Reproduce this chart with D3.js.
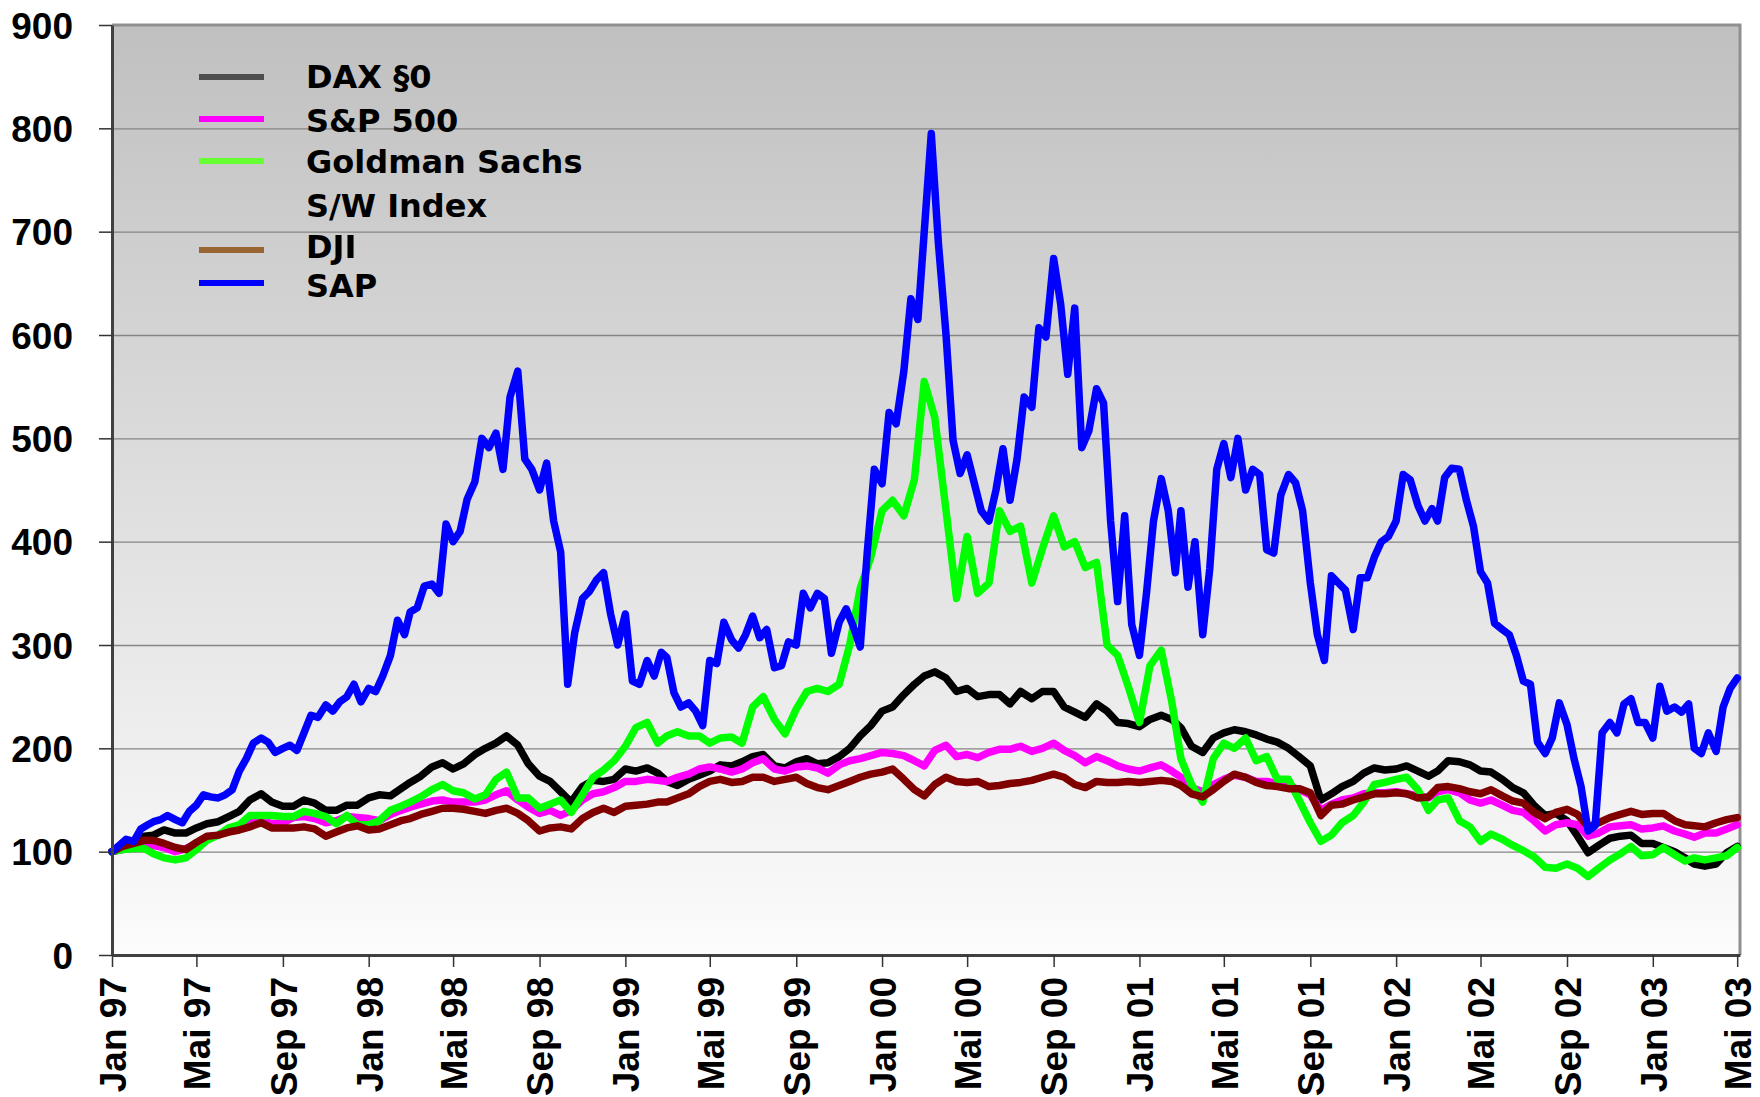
<!DOCTYPE html>
<html>
<head>
<meta charset="utf-8">
<script src="https://cdn.jsdelivr.net/npm/d3@7"></script>
<style>
    body { margin: 0; background: #ffffff; }
    svg { display: block; }
    .grid line { stroke: #858585; stroke-width: 1.3; }
    .grid path { display: none; }
    .axis text { font-family: "Liberation Sans", Arial, sans-serif; font-weight: bold; fill: #000; }
    .axis line { stroke: #333; stroke-width: 1.5; }
    .axis path { stroke: #404040; stroke-width: 3; }
    .legend text { font-family: "DejaVu Sans", Verdana, sans-serif; font-weight: bold; font-size: 32px; fill: #000; }
</style>
</head>
<body>
<div id="chart"></div>
<script>
// semi-monthly values (1st and 16th of each month), Jan 97 .. Mai 03
const daxValues = [
    100, 103, 111, 115, 116, 121, 118, 118, 123, 127, 129, 134, 139, 150, 156, 148, 144, 144, 150, 147, 140, 140, 145, 145,
    152, 155, 154, 161, 167, 173, 182, 186, 180, 185, 194, 200, 205, 212, 203, 185, 173, 168, 158, 148, 163, 169, 168, 170,
    180, 178, 181, 176, 168, 164, 170, 174, 178, 184, 183, 187, 192, 194, 183, 181, 187, 190, 185, 186, 192, 200, 212, 222,
    236, 240, 252, 262, 270, 274, 268, 255, 258, 250, 252, 252, 243, 255, 248, 255, 255, 240, 235, 230, 243, 236, 225, 224,
    221, 228, 232, 228, 220, 202, 196, 210, 215, 218, 216, 213, 209, 206, 200, 192, 183, 150, 156, 163, 168, 176, 181, 179,
    180, 183, 178, 173, 178, 188, 187, 184, 178, 177, 170, 162, 157, 145, 135, 137, 130, 115, 99, 106, 113, 115, 116, 108,
    108, 104, 100, 94, 88, 86, 88, 99, 105
];
const spValues = [
    100, 102, 105, 106, 106, 104, 100, 103, 108, 113, 116, 121, 125, 130, 131, 127, 128, 133, 134, 132, 128, 130, 134, 133,
    132, 130, 136, 140, 143, 146, 149, 150, 148, 148, 148, 150, 155, 159, 150, 143, 137, 140, 135, 140, 150, 156, 158, 162,
    168, 168, 170, 169, 168, 172, 175, 180, 182, 180, 177, 180, 186, 190, 180, 178, 182, 183, 181, 176, 184, 188, 190, 193,
    196, 195, 193, 188, 183, 198, 203, 192, 194, 191, 196, 199, 199, 202, 197, 200, 205, 198, 193, 186, 192, 188, 183, 180,
    178, 181, 184, 178, 172, 162, 158, 165, 170, 174, 172, 168, 168, 166, 164, 160, 155, 140, 146, 150, 152, 156, 157, 157,
    158, 156, 154, 152, 158, 160, 157, 150, 147, 150, 145, 140, 138, 130, 120, 126, 128, 126, 115, 118, 124, 125, 126, 122,
    123, 125, 120, 117, 114, 118, 118, 122, 126
];
const gsValues = [
    100, 102, 103, 103, 98, 94, 92, 94, 102, 111, 116, 123, 126, 135, 135, 135, 134, 134, 139, 137, 134, 127, 135, 126,
    126, 130, 140, 144, 148, 153, 160, 165, 159, 157, 151, 155, 170, 177, 152, 152, 142, 146, 150, 138, 155, 172, 179, 188,
    202, 220, 225, 205, 212, 216, 212, 212, 205, 210, 211, 205, 240, 250, 228, 214, 238, 255, 258, 255, 262, 300, 355, 385,
    430, 440, 425, 460, 555, 520, 430, 345, 405, 350, 360, 430, 410, 415, 360, 393, 425, 395, 400, 375, 380, 300, 290, 260,
    225, 280, 295, 245, 190, 165, 148, 190, 205, 200, 210, 188, 192, 170, 170, 150, 128, 110, 116, 128, 135, 148, 165, 167,
    170, 172, 160, 140, 150, 152, 130, 124, 110, 117, 112, 106, 101, 95, 85, 84, 88, 84, 76, 84, 92, 98, 105, 96,
    97, 104, 97, 91, 94, 92, 94, 96, 104
];
const djiValues = [
    100, 105, 108, 111, 111, 108, 104, 102, 109, 115, 116, 119, 121, 124, 128, 123, 123, 123, 124, 122, 115, 119, 123, 125,
    121, 122, 126, 130, 132, 136, 139, 142, 142, 141, 139, 137, 140, 142, 137, 130, 120, 123, 124, 122, 132, 138, 142, 138,
    144, 145, 146, 148, 148, 152, 156, 163, 168, 170, 167, 168, 172, 172, 168, 170, 172, 166, 162, 160, 164, 168, 172, 175,
    177, 180, 170, 160, 154, 165, 172, 168, 167, 168, 163, 164, 166, 167, 169, 172, 175, 172, 165, 162, 168, 167, 167, 168,
    167, 168, 169, 168, 164, 156, 153, 160, 168, 175, 172, 167, 164, 163, 161, 161, 157, 135, 145, 146, 150, 153, 156, 156,
    157, 156, 152, 153, 162, 163, 161, 158, 156, 160, 154, 149, 147, 138, 132, 138, 141, 136, 124, 128, 133, 136, 139, 136,
    137, 137, 130, 126, 125, 124, 128, 131, 133
];
// SAP is jumpier: three values per month (1st, 11th, 21st)
const sapValues = [
    100, 106, 112, 110, 122, 126, 129, 131, 135, 131, 128, 139, 145, 155, 153, 152, 155, 160,
    178, 190, 205, 210, 206, 196, 200, 203, 198, 215, 232, 230, 242, 236, 245, 250, 262, 245,
    258, 255, 270, 290, 324, 310, 332, 336, 357, 359, 350, 417, 400, 410, 441, 458, 500, 491,
    505, 470, 540, 565, 480, 470, 450, 476, 420, 390, 262, 312, 345, 352, 363, 370, 330, 300,
    330, 265, 262, 285, 270, 293, 288, 254, 240, 244, 236, 222, 285, 282, 322, 305, 297, 310,
    328, 307, 315, 278, 280, 303, 300, 350, 336, 350, 345, 292, 322, 335, 318, 298, 390, 470,
    456, 525, 514, 565, 635, 615, 700, 795, 690, 600, 498, 466, 484, 457, 430, 420, 450, 490,
    440, 480, 540, 530, 607, 598, 674, 630, 562, 626, 491, 507, 548, 534, 420, 342, 425, 320,
    290, 350, 420, 461, 430, 370, 430, 356, 400, 310, 374, 470, 495, 462, 500, 450, 470, 465,
    392, 389, 445, 465, 457, 430, 360, 310, 285, 367, 360, 353, 315, 365, 365, 385, 400, 405,
    420, 465, 460, 435, 420, 432, 420, 462, 471, 470, 440, 415, 371, 360, 321, 315, 310, 290,
    265, 262, 206, 195, 210, 244, 223, 190, 163, 120, 125, 215, 225, 215, 243, 248, 225, 225,
    210, 260, 236, 240, 235, 243, 200, 195, 215, 197, 240, 258, 268
];

const seriesNames = ["DAX §0", "S&P 500", "Goldman Sachs", "DJI", "SAP"];
const lineColors = ["#000000", "#ff00ff", "#00ff00", "#800000", "#0000ff"];
const legendColors = ["#4d4d4d", "#ff00ff", "#66ff33", "#996633", "#0000ff"];
const yTicks = [0, 100, 200, 300, 400, 500, 600, 700, 800, 900];
const xTickLabels = ["Jan 97", "Mai 97", "Sep 97", "Jan 98", "Mai 98", "Sep 98", "Jan 99", "Mai 99", "Sep 99",
    "Jan 00", "Mai 00", "Sep 00", "Jan 01", "Mai 01", "Sep 01", "Jan 02", "Mai 02", "Sep 02", "Jan 03", "Mai 03"];

// dates for the sample grids
function gridDates(days, count) {
    const out = [];
    for (let m = 0; out.length < count; m++) {
        for (const d of days) {
            if (out.length < count) out.push(new Date(1997, m, d));
        }
    }
    return out;
}
const halfMonthDates = gridDates([1, 16], daxValues.length);
const sapDates = gridDates([1, 11, 21], sapValues.length);

const width = 1760, height = 1097;
const margin = {top: 25, right: 20, bottom: 142, left: 112};
const innerW = width - margin.left - margin.right;
const innerH = height - margin.top - margin.bottom;

const svg = d3.select("#chart").append("svg")
    .attr("width", width)
    .attr("height", height);

// plot background gradient
const grad = svg.append("defs").append("linearGradient")
    .attr("id", "bg")
    .attr("x1", 0).attr("y1", 0).attr("x2", 0).attr("y2", 1);
grad.append("stop").attr("offset", "0%").attr("stop-color", "#c0c0c0");
grad.append("stop").attr("offset", "100%").attr("stop-color", "#fcfcfc");

const plot = svg.append("g")
    .attr("transform", `translate(${margin.left},${margin.top})`);

const x = d3.scaleTime()
    .domain([new Date(1997, 0, 1), new Date(2003, 4, 5)])
    .range([0, innerW]);
const y = d3.scaleLinear()
    .domain([0, 900])
    .range([innerH, 0]);

plot.append("rect")
    .attr("width", innerW)
    .attr("height", innerH)
    .attr("fill", "url(#bg)");

// horizontal grid lines
plot.append("g")
    .attr("class", "grid")
    .call(d3.axisLeft(y).tickValues(yTicks.slice(1, -1)).tickSize(-innerW).tickFormat(""));

// frame: top and right border
plot.append("path")
    .attr("d", `M0,0H${innerW}V${innerH}`)
    .attr("fill", "none")
    .attr("stroke", "#8f8f8f")
    .attr("stroke-width", 3);

// series lines, in legend order (later ones on top)
const line = d3.line()
    .x(d => x(d[0]))
    .y(d => y(d[1]));
const seriesData = [
    d3.zip(halfMonthDates, daxValues),
    d3.zip(halfMonthDates, spValues),
    d3.zip(halfMonthDates, gsValues),
    d3.zip(halfMonthDates, djiValues),
    d3.zip(sapDates, sapValues)
];
seriesData.forEach((data, i) => {
    plot.append("path")
        .datum(data)
        .attr("d", line)
        .attr("fill", "none")
        .attr("stroke", lineColors[i])
        .attr("stroke-width", 7.5)
        .attr("stroke-linejoin", "round")
        .attr("stroke-linecap", "round");
});

// Y axis
const yAxis = plot.append("g")
    .attr("class", "axis")
    .call(d3.axisLeft(y).tickValues(yTicks).tickSize(13).tickPadding(26).tickSizeOuter(0));
yAxis.selectAll("text")
    .style("font-size", "37px")
    .attr("dy", "0.36em");

// X axis
const xTickDates = d3.timeMonth.every(4).range(new Date(1997, 0, 1), new Date(2003, 4, 2));
const xAxis = plot.append("g")
    .attr("class", "axis")
    .attr("transform", `translate(0,${innerH})`)
    .call(d3.axisBottom(x).tickValues(xTickDates).tickSize(12).tickSizeOuter(0)
        .tickFormat((d, i) => xTickLabels[i]));
xAxis.selectAll("text")
    .style("font-size", "37px")
    .attr("transform", "rotate(-90)")
    .attr("text-anchor", "end")
    .attr("x", -22)
    .attr("y", 0)
    .attr("dy", "0.36em");

// legend
const legendRows = [
    {label: "DAX §0", color: legendColors[0], lineY: 77, textY: 88},
    {label: "S&P 500", color: legendColors[1], lineY: 119, textY: 132},
    {label: "Goldman Sachs", color: legendColors[2], lineY: 161, textY: 173},
    {label: "S/W Index", color: null, lineY: 0, textY: 217},
    {label: "DJI", color: legendColors[3], lineY: 250, textY: 258},
    {label: "SAP", color: legendColors[4], lineY: 283, textY: 297}
];
const legend = svg.append("g").attr("class", "legend");
legendRows.forEach(r => {
    if (r.color) {
        legend.append("line")
            .attr("x1", 199).attr("x2", 264)
            .attr("y1", r.lineY).attr("y2", r.lineY)
            .attr("stroke", r.color)
            .attr("stroke-width", 6);
    }
    legend.append("text")
        .attr("x", 306)
        .attr("y", r.textY)
        .text(r.label);
});
</script>
</body>
</html>
